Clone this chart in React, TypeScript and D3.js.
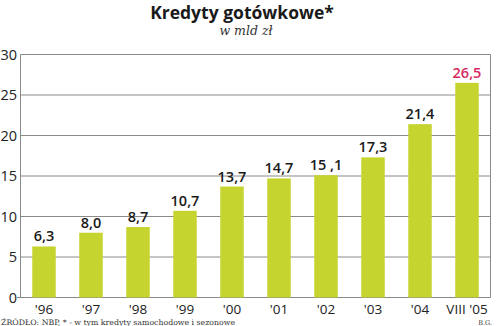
import React from "react";
import * as d3 from "d3";

const categories = ["'96", "'97", "'98", "'99", "'00", "'01", "'02", "'03", "'04", "VIII '05"];
const values = [6.3, 8.0, 8.7, 10.7, 13.7, 14.7, 15.1, 17.3, 21.4, 26.5];
const valueLabels = ["6,3", "8,0", "8,7", "10,7", "13,7", "14,7", "15 ,1", "17,3", "21,4", "26,5"];
const yTicks = [0, 5, 10, 15, 20, 25, 30];

const W = 500;
const H = 326;
const left = 20.5;
const right = 490.5;
const top = 54.5;
const bottom = 297.5;

export default function App() {
  const x = d3.scaleBand<string>().domain(categories).range([left, right]).paddingInner(0.5).paddingOuter(0.25);
  const y = d3.scaleLinear().domain([0, 30]).range([bottom, top]);
  const sans = "'Open Sans', 'DejaVu Sans', sans-serif";
  const lastIdx = categories.length - 1;
  return (
    <svg width={W} height={H} style={{ position: "absolute", left: 0, top: 0, background: "#fff" }}>
      <text x={242} y={19} textAnchor="middle" fontFamily={sans} fontWeight={700} fontSize={17.5} fill="#1a1a1a">
        Kredyty gotówkowe*
      </text>
      <text x={246} y={35} textAnchor="middle" fontFamily="'DejaVu Serif', serif" fontStyle="italic" fontSize={12.5} fill="#333">
        w mld zł
      </text>
      {yTicks.map((t) => (
        <g key={t}>
          <line x1={t === 0 ? 17 : left} x2={right} y1={y(t)} y2={y(t)} stroke="#8a8a8a" strokeWidth={1} />
          <text x={17} y={y(t)} dy="0.36em" textAnchor="end" fontFamily={sans} fontSize={14.5} fill="#222">
            {t}
          </text>
        </g>
      ))}
      <line x1={left} x2={left} y1={top} y2={bottom} stroke="#8a8a8a" strokeWidth={1} />
      <line x1={right} x2={right} y1={top} y2={bottom} stroke="#8a8a8a" strokeWidth={1} />
      {categories.map((c, i) => (
        <rect key={c} x={x(c)} y={y(values[i])} width={x.bandwidth()} height={bottom - y(values[i])} fill="#c6d42f" />
      ))}
      {categories.map((c, i) => (
        <text
          key={"v" + c}
          x={(x(c) as number) + x.bandwidth() / 2}
          y={y(values[i]) - 5}
          textAnchor="middle"
          fontFamily={sans}
          fontWeight={600}
          fontSize={14.5}
          fill={i === lastIdx ? "#d6285e" : "#1a1a1a"}
        >
          {valueLabels[i]}
        </text>
      ))}
      {categories.map((c) => (
        <text
          key={"x" + c}
          x={(x(c) as number) + x.bandwidth() / 2}
          y={313.5}
          textAnchor="middle"
          fontFamily={sans}
          fontSize={13.5}
          fill="#222"
        >
          {c}
        </text>
      ))}
      <text
        x={1}
        y={324.5}
        fontFamily="'DejaVu Serif', serif"
        fontSize={7.5}
        fill="#333"
        textLength={234}
        lengthAdjust="spacingAndGlyphs"
      >
        ŹRÓDŁO: NBP, * - w tym kredyty samochodowe i sezonowe
      </text>
      <text x={492} y={324.5} textAnchor="end" fontFamily="'DejaVu Serif', serif" fontSize={6.5} fill="#333">
        B.G.
      </text>
    </svg>
  );
}
